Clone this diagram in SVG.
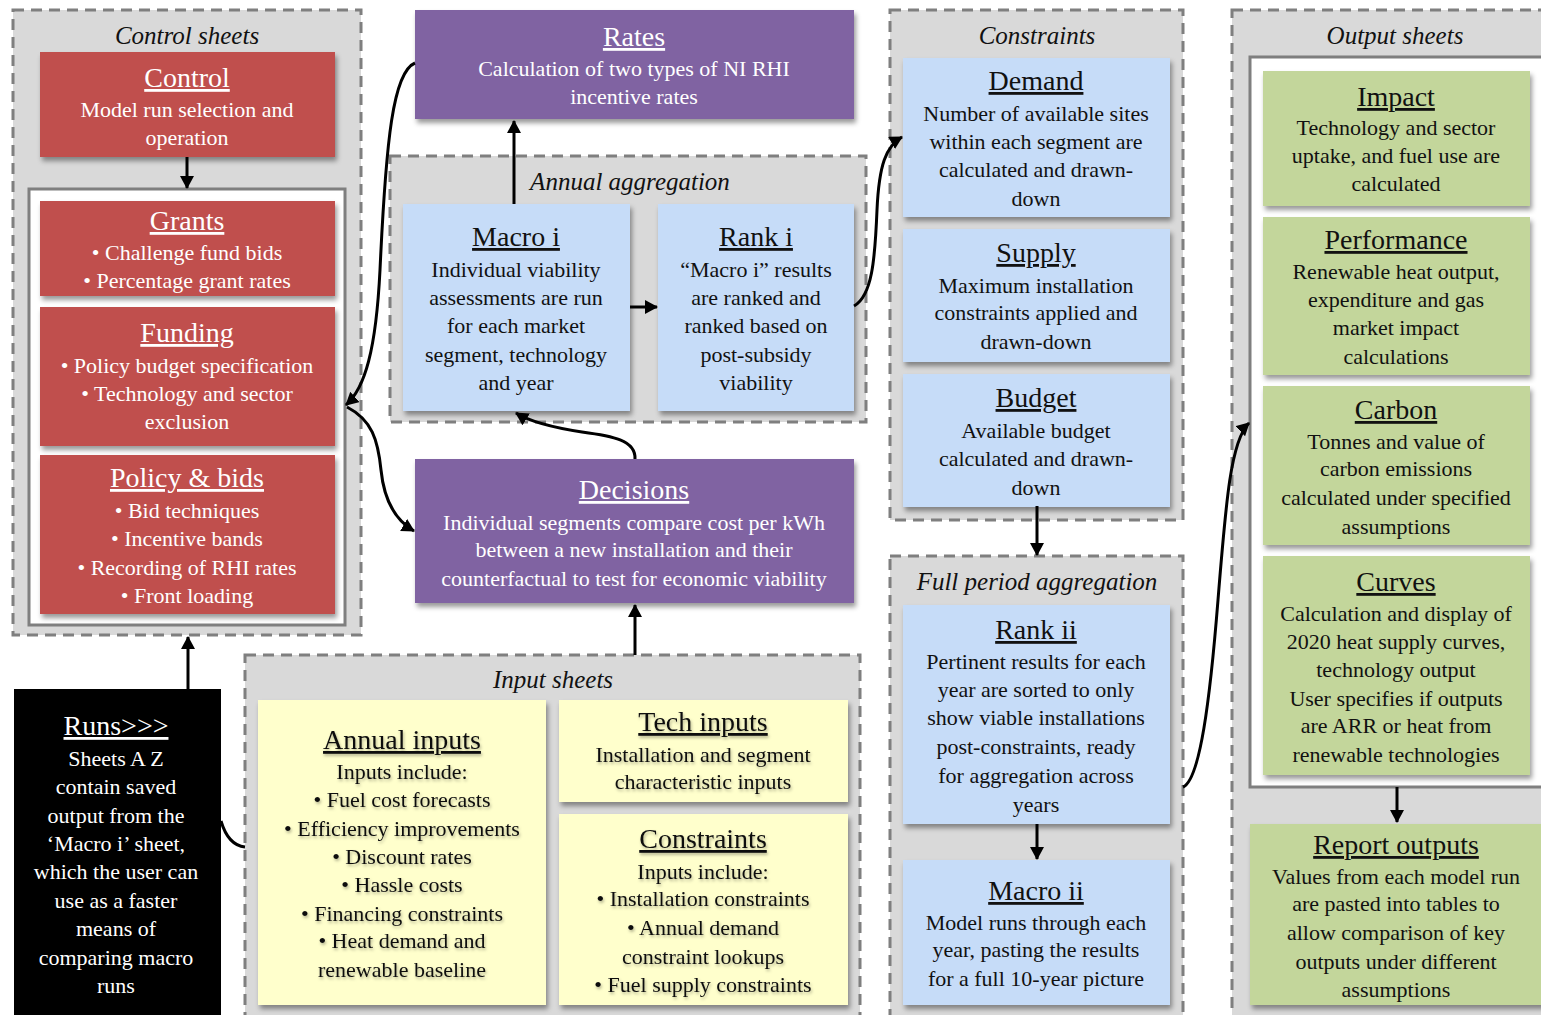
<svg xmlns="http://www.w3.org/2000/svg" width="1541" height="1015" viewBox="0 0 1541 1015" font-family="'Liberation Serif', 'DejaVu Serif', serif">
<style>
.ctr{fill:#d9d9d9;stroke:#7f7f7f;stroke-width:3;stroke-dasharray:11 7}
.inner{fill:#fff;stroke:#7f7f7f;stroke-width:3}
.red{fill:#c0504d;filter:url(#sh)}
.pur{fill:#8064a2;filter:url(#sh)}
.blu{fill:#c6dcf8;filter:url(#sh)}
.grn{fill:#c3d69b;filter:url(#sh)}
.yel{fill:#ffffcc;filter:url(#sh)}
.blk{fill:#000}
text{font-family:'Liberation Serif','DejaVu Serif',serif;text-anchor:middle}
.h{font-size:28px;text-decoration:underline}
.b{font-size:22px}
.w{fill:#fff}
.k{fill:#111}
.ys{filter:url(#ts)}
.it{font-style:italic;font-size:25px;fill:#111}
.con{fill:none;stroke:#000;stroke-width:3}
</style>
<defs>
<filter id="sh" x="-5%" y="-5%" width="115%" height="120%">
<feDropShadow dx="2" dy="4" stdDeviation="2.5" flood-color="#000" flood-opacity="0.4"/>
</filter>
<filter id="ts" x="-5%" y="-20%" width="115%" height="160%">
<feDropShadow dx="1" dy="2" stdDeviation="1.5" flood-color="#000" flood-opacity="0.3"/>
</filter>
<marker id="ah" markerUnits="userSpaceOnUse" markerWidth="16" markerHeight="16" refX="12" refY="7" orient="auto">
<path d="M0,0 L13,7 L0,14 Z" fill="#000"/>
</marker>
</defs>

<!-- containers -->
<g id="control-sheets">
<rect class="ctr" x="13" y="10" width="348" height="625"/>
<text class="it" x="187" y="44">Control sheets</text>
<rect class="inner" x="29" y="189" width="316" height="436"/>
</g>
<g id="annual-aggregation">
<rect class="ctr" x="390" y="156" width="476" height="266"/>
<text class="it" x="630" y="190">Annual aggregation</text>
</g>
<g id="constraints-group">
<rect class="ctr" x="890" y="10" width="293" height="510"/>
<text class="it" x="1037" y="44">Constraints</text>
</g>
<g id="full-period-aggregation">
<rect class="ctr" x="890" y="556" width="293" height="470"/>
<text class="it" x="1037" y="590">Full period aggregation</text>
</g>
<g id="output-sheets">
<rect class="ctr" x="1232" y="10" width="320" height="1016"/>
<text class="it" x="1395" y="44">Output sheets</text>
<rect class="inner" x="1250" y="57" width="300" height="730"/>
</g>
<g id="input-sheets">
<rect class="ctr" x="245" y="655" width="615" height="370"/>
<text class="it" x="553" y="688">Input sheets</text>
</g>

<!-- nodes -->
<g id="control">
<rect class="red" x="40" y="52" width="295" height="105"/>
<text class="h w" x="187" y="87">Control</text>
<text class="b w" x="187" y="117">Model run selection and</text>
<text class="b w" x="187" y="145">operation</text>
</g>
<g id="grants">
<rect class="red" x="40" y="201" width="295" height="95"/>
<text class="h w" x="187" y="230">Grants</text>
<text class="b w" x="187" y="260">• Challenge fund bids</text>
<text class="b w" x="187" y="288">• Percentage grant rates</text>
</g>
<g id="funding">
<rect class="red" x="40" y="307" width="295" height="139"/>
<text class="h w" x="187" y="342">Funding</text>
<text class="b w" x="187" y="373">• Policy budget specification</text>
<text class="b w" x="187" y="401">• Technology and sector</text>
<text class="b w" x="187" y="429">exclusion</text>
</g>
<g id="policy-bids">
<rect class="red" x="40" y="455" width="295" height="159"/>
<text class="h w" x="187" y="487">Policy &amp; bids</text>
<text class="b w" x="187" y="518">• Bid techniques</text>
<text class="b w" x="187" y="546">• Incentive bands</text>
<text class="b w" x="187" y="575">• Recording of RHI rates</text>
<text class="b w" x="187" y="603">• Front loading</text>
</g>
<g id="runs">
<rect class="blk" x="14" y="689" width="207" height="330"/>
<text class="h w" x="116" y="735">Runs&gt;&gt;&gt;</text>
<text class="b w" x="116" y="766">Sheets A  Z</text>
<text class="b w" x="116" y="794">contain saved</text>
<text class="b w" x="116" y="823">output from the</text>
<text class="b w" x="116" y="851">‘Macro i’ sheet,</text>
<text class="b w" x="116" y="879">which the user can</text>
<text class="b w" x="116" y="908">use as a faster</text>
<text class="b w" x="116" y="936">means of</text>
<text class="b w" x="116" y="965">comparing macro</text>
<text class="b w" x="116" y="993">runs</text>
</g>
<g id="rates">
<rect class="pur" x="415" y="10" width="439" height="109"/>
<text class="h w" x="634" y="46">Rates</text>
<text class="b w" x="634" y="76">Calculation of two types of NI RHI</text>
<text class="b w" x="634" y="104">incentive rates</text>
</g>
<g id="macro-i">
<rect class="blu" x="403" y="204" width="227" height="207"/>
<text class="h k" x="516" y="246">Macro i</text>
<text class="b k" x="516" y="277">Individual viability</text>
<text class="b k" x="516" y="305">assessments are run</text>
<text class="b k" x="516" y="333">for each market</text>
<text class="b k" x="516" y="362">segment, technology</text>
<text class="b k" x="516" y="390">and year</text>
</g>
<g id="rank-i">
<rect class="blu" x="658" y="204" width="196" height="207"/>
<text class="h k" x="756" y="246">Rank i</text>
<text class="b k" x="756" y="277">“Macro i” results</text>
<text class="b k" x="756" y="305">are ranked and</text>
<text class="b k" x="756" y="333">ranked based on</text>
<text class="b k" x="756" y="362">post-subsidy</text>
<text class="b k" x="756" y="390">viability</text>
</g>
<g id="decisions">
<rect class="pur" x="415" y="459" width="439" height="144"/>
<text class="h w" x="634" y="499">Decisions</text>
<text class="b w" x="634" y="530">Individual segments compare cost per kWh</text>
<text class="b w" x="634" y="557">between a new installation and their</text>
<text class="b w" x="634" y="586">counterfactual to test for economic viability</text>
</g>
<g id="demand">
<rect class="blu" x="903" y="58" width="267" height="159"/>
<text class="h k" x="1036" y="90">Demand</text>
<text class="b k" x="1036" y="121">Number of available sites</text>
<text class="b k" x="1036" y="149">within each segment are</text>
<text class="b k" x="1036" y="177">calculated and drawn-</text>
<text class="b k" x="1036" y="206">down</text>
</g>
<g id="supply">
<rect class="blu" x="903" y="229" width="267" height="133"/>
<text class="h k" x="1036" y="262">Supply</text>
<text class="b k" x="1036" y="293">Maximum installation</text>
<text class="b k" x="1036" y="320">constraints applied and</text>
<text class="b k" x="1036" y="349">drawn-down</text>
</g>
<g id="budget">
<rect class="blu" x="903" y="374" width="267" height="133"/>
<text class="h k" x="1036" y="407">Budget</text>
<text class="b k" x="1036" y="438">Available budget</text>
<text class="b k" x="1036" y="466">calculated and drawn-</text>
<text class="b k" x="1036" y="495">down</text>
</g>
<g id="rank-ii">
<rect class="blu" x="903" y="605" width="267" height="219"/>
<text class="h k" x="1036" y="639">Rank ii</text>
<text class="b k" x="1036" y="669">Pertinent results for each</text>
<text class="b k" x="1036" y="697">year are sorted to only</text>
<text class="b k" x="1036" y="725">show viable installations</text>
<text class="b k" x="1036" y="754">post-constraints, ready</text>
<text class="b k" x="1036" y="783">for aggregation across</text>
<text class="b k" x="1036" y="812">years</text>
</g>
<g id="macro-ii">
<rect class="blu" x="903" y="860" width="267" height="145"/>
<text class="h k" x="1036" y="900">Macro ii</text>
<text class="b k" x="1036" y="930">Model runs through each</text>
<text class="b k" x="1036" y="957">year, pasting the results</text>
<text class="b k" x="1036" y="986">for a full 10-year picture</text>
</g>
<g id="impact">
<rect class="grn" x="1263" y="71" width="267" height="135"/>
<text class="h k" x="1396" y="106">Impact</text>
<text class="b k" x="1396" y="135">Technology and sector</text>
<text class="b k" x="1396" y="163">uptake, and fuel use are</text>
<text class="b k" x="1396" y="191">calculated</text>
</g>
<g id="performance">
<rect class="grn" x="1263" y="217" width="267" height="158"/>
<text class="h k" x="1396" y="249">Performance</text>
<text class="b k" x="1396" y="279">Renewable heat output,</text>
<text class="b k" x="1396" y="307">expenditure and gas</text>
<text class="b k" x="1396" y="335">market impact</text>
<text class="b k" x="1396" y="364">calculations</text>
</g>
<g id="carbon">
<rect class="grn" x="1263" y="386" width="267" height="159"/>
<text class="h k" x="1396" y="419">Carbon</text>
<text class="b k" x="1396" y="449">Tonnes and value of</text>
<text class="b k" x="1396" y="476">carbon emissions</text>
<text class="b k" x="1396" y="505">calculated under specified</text>
<text class="b k" x="1396" y="534">assumptions</text>
</g>
<g id="curves">
<rect class="grn" x="1263" y="556" width="267" height="219"/>
<text class="h k" x="1396" y="591">Curves</text>
<text class="b k" x="1396" y="621">Calculation and display of</text>
<text class="b k" x="1396" y="649">2020 heat supply curves,</text>
<text class="b k" x="1396" y="677">technology output</text>
<text class="b k" x="1396" y="706">User specifies if outputs</text>
<text class="b k" x="1396" y="733">are ARR or heat from</text>
<text class="b k" x="1396" y="762">renewable technologies</text>
</g>
<g id="report-outputs">
<rect class="grn" x="1250" y="824" width="300" height="181"/>
<text class="h k" x="1396" y="854">Report outputs</text>
<text class="b k" x="1396" y="884">Values from each model run</text>
<text class="b k" x="1396" y="911">are pasted into tables to</text>
<text class="b k" x="1396" y="940">allow comparison of key</text>
<text class="b k" x="1396" y="969">outputs under different</text>
<text class="b k" x="1396" y="997">assumptions</text>
</g>
<g id="annual-inputs">
<rect class="yel" x="258" y="700" width="288" height="305"/>
<g class="ys">
<text class="h k" x="402" y="749">Annual inputs</text>
<text class="b k" x="402" y="779">Inputs include:</text>
<text class="b k" x="402" y="807">• Fuel cost forecasts</text>
<text class="b k" x="402" y="836">• Efficiency improvements</text>
<text class="b k" x="402" y="864">• Discount rates</text>
<text class="b k" x="402" y="892">• Hassle costs</text>
<text class="b k" x="402" y="921">• Financing constraints</text>
<text class="b k" x="402" y="948">• Heat demand and</text>
<text class="b k" x="402" y="977">renewable baseline</text>
</g>
</g>
<g id="tech-inputs">
<rect class="yel" x="559" y="700" width="289" height="102"/>
<g class="ys">
<text class="h k" x="703" y="731">Tech inputs</text>
<text class="b k" x="703" y="762">Installation and segment</text>
<text class="b k" x="703" y="789">characteristic inputs</text>
</g>
</g>
<g id="constraints-inputs">
<rect class="yel" x="559" y="814" width="289" height="191"/>
<g class="ys">
<text class="h k" x="703" y="848">Constraints</text>
<text class="b k" x="703" y="879">Inputs include:</text>
<text class="b k" x="703" y="906">• Installation constraints</text>
<text class="b k" x="703" y="935">• Annual demand</text>
<text class="b k" x="703" y="964">constraint lookups</text>
<text class="b k" x="703" y="992">• Fuel supply constraints</text>
</g>
</g>

<!-- connectors -->
<g id="connectors">
<path class="con" d="M187,157 L187,188" marker-end="url(#ah)"/>
<path class="con" d="M188,689 L188,637" marker-end="url(#ah)"/>
<path class="con" d="M221,821 C226,838 235,846 245,847"/>
<path class="con" d="M514,204 L514,121" marker-end="url(#ah)"/>
<path class="con" d="M630,307 L657,307" marker-end="url(#ah)"/>
<path class="con" d="M635,459 C636,440 612,436 582,432 C556,428 532,423 516,413" marker-end="url(#ah)"/>
<path class="con" d="M635,655 L635,605" marker-end="url(#ah)"/>
<path class="con" d="M415,63 C393,72 386,140 380,270 C376,350 365,388 346,405" marker-end="url(#ah)"/>
<path class="con" d="M347,407 C372,420 378,440 381,470 C384,500 395,520 414,531" marker-end="url(#ah)"/>
<path class="con" d="M854,306 C872,296 875,260 877,210 C879,165 886,146 902,137" marker-end="url(#ah)"/>
<path class="con" d="M1037,506 L1037,555" marker-end="url(#ah)"/>
<path class="con" d="M1037,824 L1037,859" marker-end="url(#ah)"/>
<path class="con" d="M1183,787 C1200,780 1210,700 1218,600 C1226,500 1231,440 1249,423" marker-end="url(#ah)"/>
<path class="con" d="M1397,787 L1397,822" marker-end="url(#ah)"/>
</g>
</svg>
